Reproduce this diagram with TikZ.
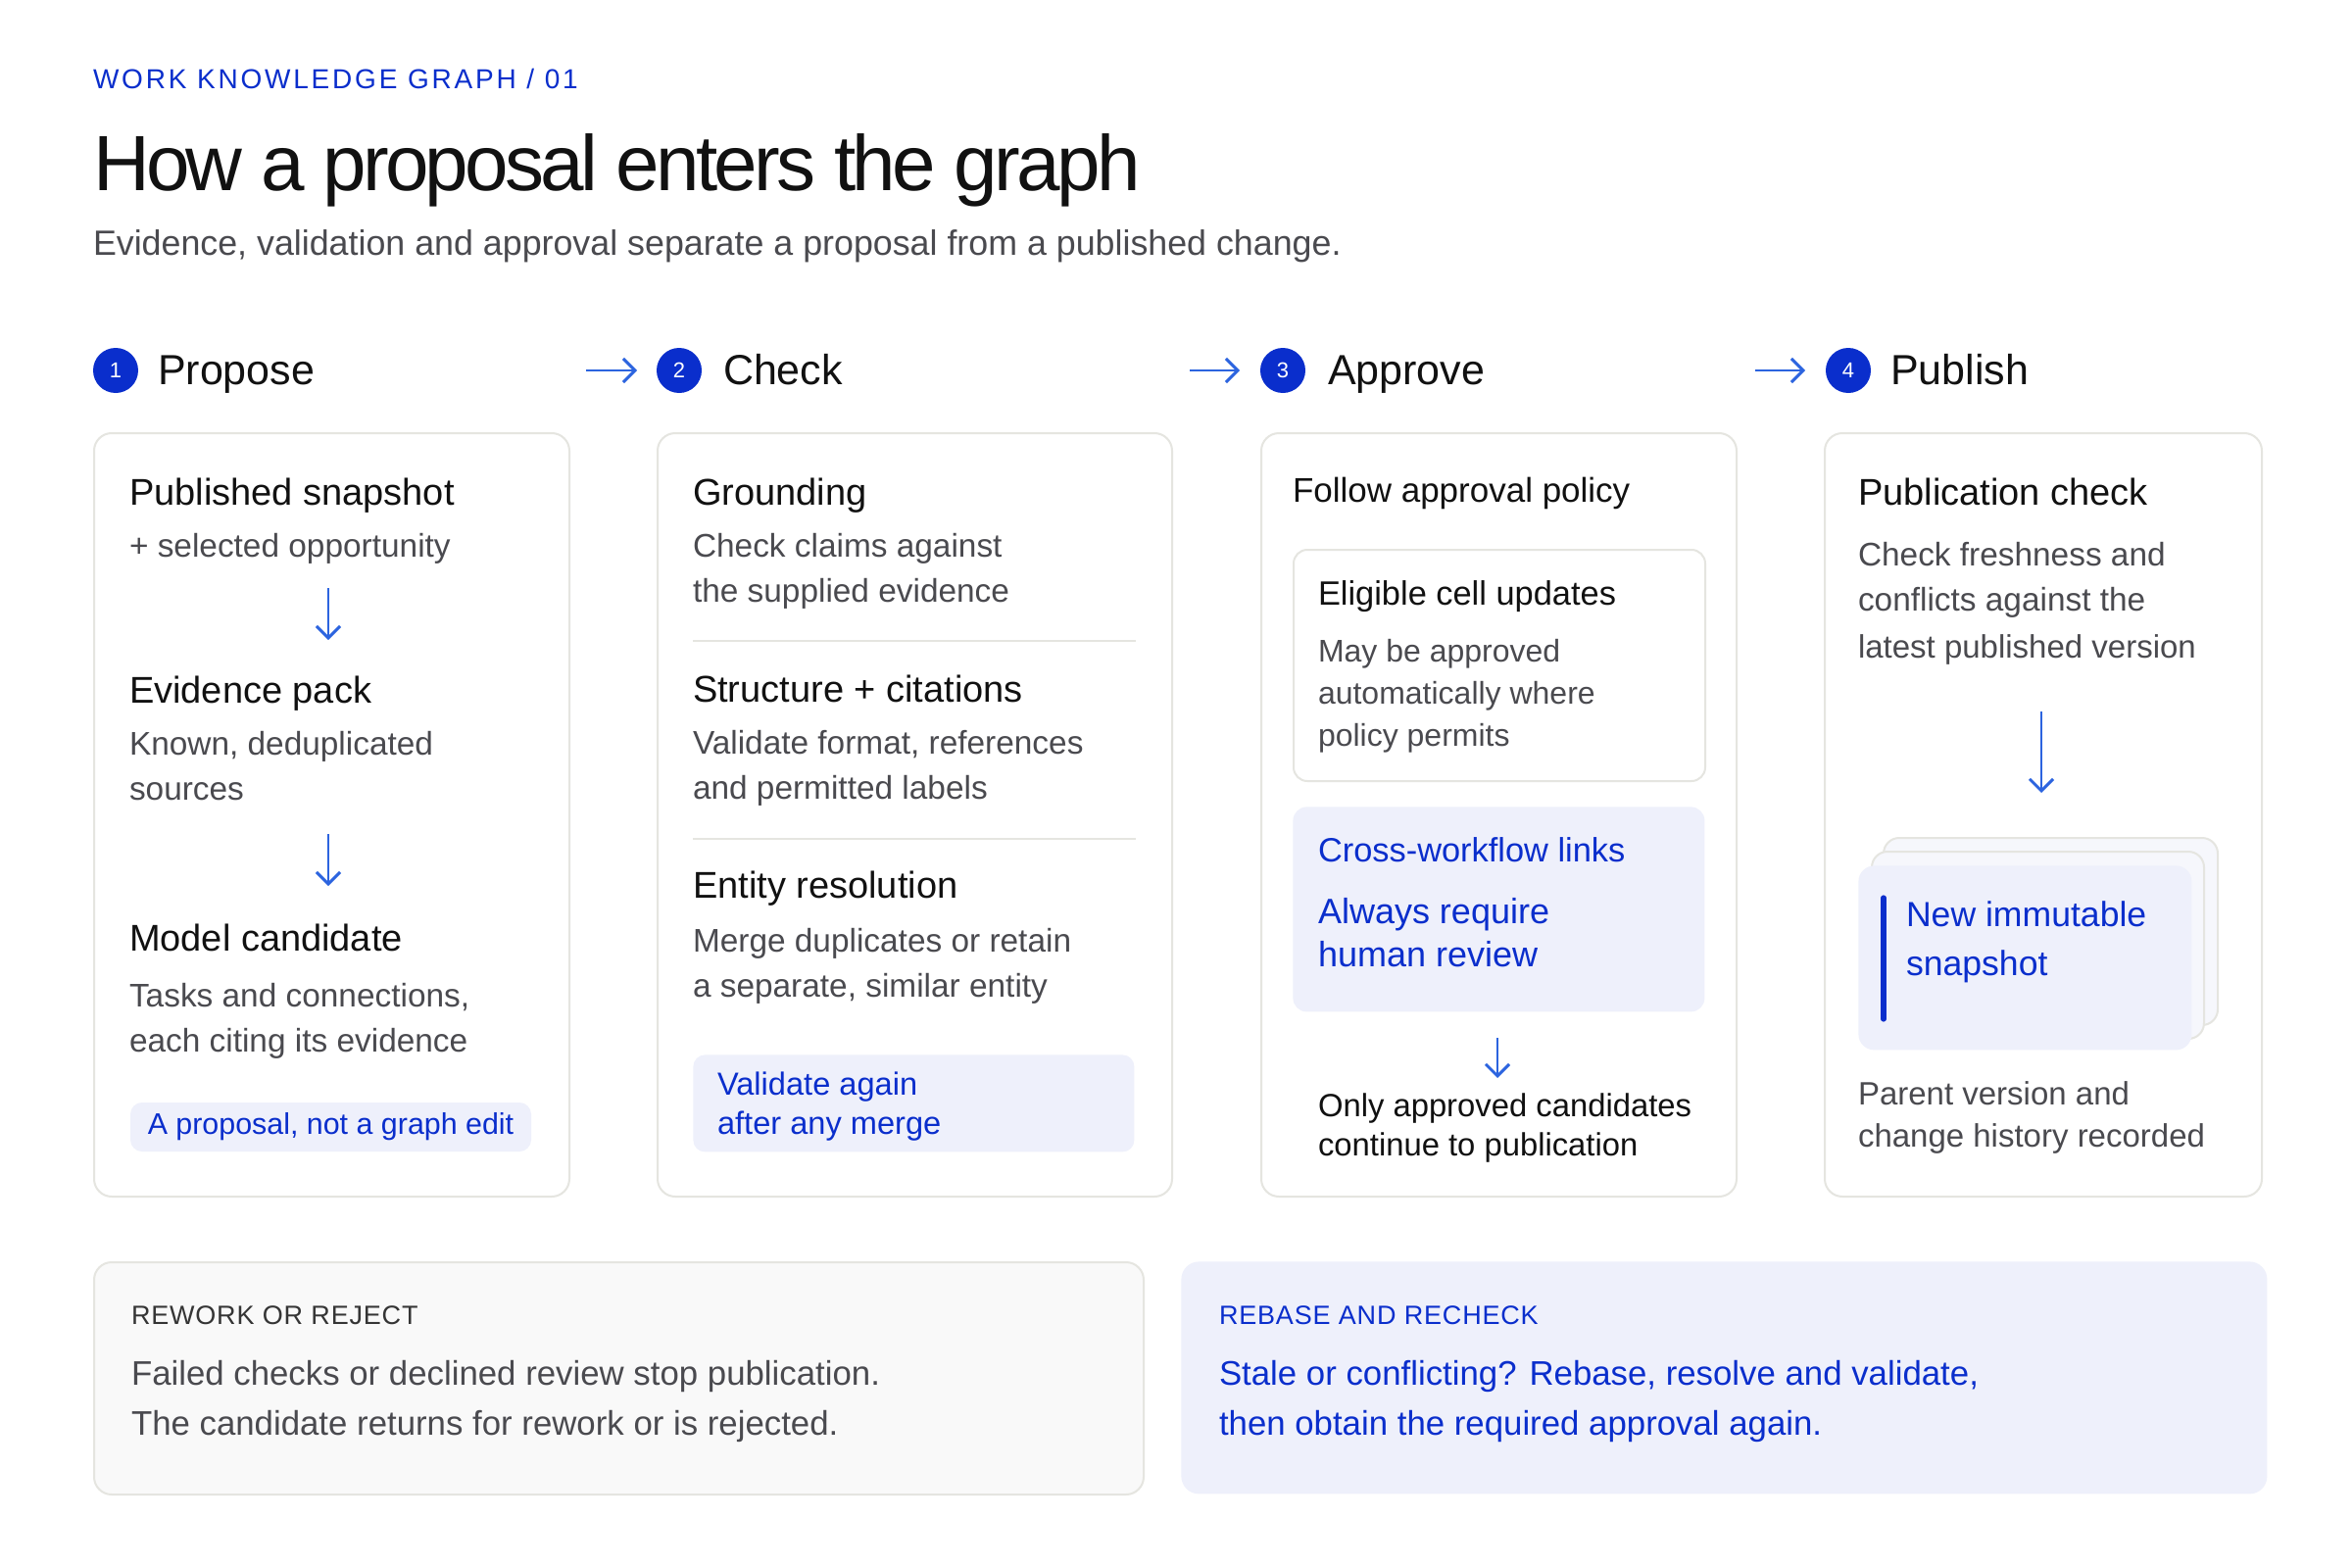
\documentclass[tikz,border=0pt]{standalone}
\usepackage{fontspec}
\setmainfont{Liberation Sans}
\usetikzlibrary{arrows.meta}
\definecolor{ink}{HTML}{111111}
\definecolor{muted}{HTML}{4A4A4F}
\definecolor{brand}{HTML}{0A2ECC}
\definecolor{arrowblue}{HTML}{2C64DF}
\definecolor{tint}{HTML}{EEF0FB}
\definecolor{tintlight}{HTML}{F6F7FC}
\definecolor{ruleclr}{HTML}{E5E5E0}
\definecolor{panel}{HTML}{F9F9F9}
\newcommand\fsz[1]{\fontsize{#1pt}{#1pt}\selectfont}
\tikzset{
  txt/.style={anchor=mid west, inner sep=0pt, outer sep=0pt, yshift=-3pt},
  eyebrow/.style={txt, text=brand, font=\fsz{14}\addfontfeature{LetterSpace=10}, yshift=1pt},
  title/.style={txt, text=ink, font=\fsz{40}\addfontfeature{LetterSpace=-4.6}, yshift=-7.5pt},
  subtitle/.style={txt, text=muted, font=\fsz{17.9}},
  stepdot/.style={circle, fill=brand, text=white, minimum size=23pt, inner sep=0pt, font=\fsz{11}},
  steplbl/.style={txt, text=ink, font=\fsz{21.5}, yshift=-1.5pt},
  cardbox/.style={draw=ruleclr, line width=1pt, fill=white, rounded corners=9pt, anchor=north west, inner sep=0pt},
  head/.style={txt, text=ink, font=\fsz{19}, yshift=-1pt},
  body/.style={txt, text=muted, font=\fsz{16.7}},
  subhead/.style={txt, text=ink, font=\fsz{17.2}},
  bluetxt/.style={txt, text=brand, font=\fsz{17.5}},
  pillbox/.style={fill=tint, rounded corners=6pt, inner sep=0pt},
  varrow/.style={draw=arrowblue, line width=1.45pt, -{Straight Barb[length=6pt, width=12pt, line width=1.45pt]}},
  harrow/.style={draw=arrowblue, line width=1.45pt, -{Straight Barb[length=6pt, width=12pt, line width=1.45pt]}},
  divider/.style={draw=ruleclr, line width=1pt},
  boteyebrow/.style={txt, font=\fsz{13.5}\addfontfeature{LetterSpace=3}, yshift=0.5pt},
  bottxt/.style={txt, font=\fsz{17.4}},
}
\begin{document}
\begin{tikzpicture}[x=0.5pt,y=-0.5pt]
\useasboundingbox (0,0) rectangle (2400,1600);
\fill[white] (0,0) rectangle (2400,1600);

% header
\node[eyebrow] (eyebrow) at (95,81) {WORK KNOWLEDGE GRAPH / 01};
\node[title] (title) at (95,168) {How a proposal enters the graph};
\node[subtitle] (subtitle) at (95,249) {Evidence, validation and approval separate a proposal from a published change.};

% step headers
\node[stepdot] (d1) at (118,378) {1};
\node[steplbl] (s1) at (161,378) {Propose};
\node[stepdot] (d2) at (693,378) {2};
\node[steplbl] (s2) at (738,378) {Check};
\node[stepdot] (d3) at (1309,378) {3};
\node[steplbl] (s3) at (1355,378) {Approve};
\node[stepdot] (d4) at (1886,378) {4};
\node[steplbl] (s4) at (1929,378) {Publish};
\coordinate (h1a) at (598,378); \coordinate (h1b) at (650,378);
\coordinate (h2a) at (1214,378); \coordinate (h2b) at (1265,378);
\coordinate (h3a) at (1791,378); \coordinate (h3b) at (1842,378);
\draw[harrow] (h1a) -- (h1b);
\draw[harrow] (h2a) -- (h2b);
\draw[harrow] (h3a) -- (h3b);

% cards
\node[cardbox, minimum width=242.5pt, minimum height=389.5pt] (card1) at (95,441) {};
\node[cardbox, minimum width=262.5pt, minimum height=389.5pt] (card2) at (670,441) {};
\node[cardbox, minimum width=242.5pt, minimum height=389.5pt] (card3) at (1286,441) {};
\node[cardbox, minimum width=223pt, minimum height=389.5pt] (card4) at (1861,441) {};

% card 1
\node[head] (c1h1) at (132,502) {Published snapshot};
\node[body] (c1b1) at (132,557) {+ selected opportunity};
\coordinate (c1a1s) at (335,600); \coordinate (c1a1e) at (335,653);
\draw[varrow] (c1a1s) -- (c1a1e);
\node[head] (c1h2) at (132,704) {Evidence pack};
\node[body] (c1b2) at (132,759) {Known, deduplicated};
\node[body] (c1b3) at (132,805) {sources};
\coordinate (c1a2s) at (335,851); \coordinate (c1a2e) at (335,904);
\draw[varrow] (c1a2s) -- (c1a2e);
\node[head] (c1h3) at (132,957) {Model candidate};
\node[body] (c1b4) at (132,1016) {Tasks and connections,};
\node[body] (c1b5) at (132,1062) {each citing its evidence};
\node[pillbox, minimum width=204.5pt, minimum height=25pt, text=brand, font=\fsz{15.2}] (pill1) at (337.5,1150) {A proposal, not a graph edit};

% card 2
\node[head] (c2h1) at (707,502) {Grounding};
\node[body] (c2b1) at (707,557) {Check claims against};
\node[body] (c2b2) at (707,603) {the supplied evidence};
\coordinate (dv1a) at (707,654); \coordinate (dv1b) at (1159,654);
\draw[divider] (dv1a) -- (dv1b);
\node[head] (c2h2) at (707,703) {Structure + citations};
\node[body] (c2b3) at (707,758) {Validate format, references};
\node[body] (c2b4) at (707,804) {and permitted labels};
\coordinate (dv2a) at (707,856); \coordinate (dv2b) at (1159,856);
\draw[divider] (dv2a) -- (dv2b);
\node[head] (c2h3) at (707,903) {Entity resolution};
\node[body] (c2b5) at (707,960) {Merge duplicates or retain};
\node[body] (c2b6) at (707,1006) {a separate, similar entity};
\node[pillbox, anchor=north west, minimum width=225pt, minimum height=49.5pt] (pill2) at (707,1076) {};
\node[txt, text=brand, font=\fsz{16.3}] (p2l1) at (732,1106) {Validate again};
\node[txt, text=brand, font=\fsz{16.3}] (p2l2) at (732,1146) {after any merge};

% card 3
\node[txt, text=ink, font=\fsz{17.5}, yshift=-0.8pt] (c3h) at (1319,500) {Follow approval policy};
\node[cardbox, rounded corners=7pt, minimum width=210pt, minimum height=118pt] (elig) at (1319,560) {};
\node[subhead] (c3s1) at (1345,606) {Eligible cell updates};
\node[body, font=\fsz{16}] (c3b1) at (1345,664) {May be approved};
\node[body, font=\fsz{16}] (c3b2) at (1345,707) {automatically where};
\node[body, font=\fsz{16}] (c3b3) at (1345,750) {policy permits};
\node[pillbox, rounded corners=7pt, anchor=north west, minimum width=210pt, minimum height=104.5pt] (cross) at (1319,823) {};
\node[bluetxt, font=\fsz{17.2}] (c3x1) at (1345,868) {Cross-workflow links};
\node[bluetxt, font=\fsz{18}] (c3x2) at (1345,931) {Always require};
\node[bluetxt, font=\fsz{18}] (c3x3) at (1345,975) {human review};
\coordinate (c3as) at (1528,1059); \coordinate (c3ae) at (1528,1100);
\draw[varrow] (c3as) -- (c3ae);
\node[txt, text=ink, font=\fsz{16.4}] (c3o1) at (1345,1128) {Only approved candidates};
\node[txt, text=ink, font=\fsz{16.4}] (c3o2) at (1345,1168) {continue to publication};

% card 4
\node[head] (c4h) at (1896,502) {Publication check};
\node[body] (c4b1) at (1896,566) {Check freshness and};
\node[body] (c4b2) at (1896,612) {conflicts against the};
\node[body, font=\fsz{16.5}] (c4b3) at (1896,660) {latest published version};
\coordinate (c4as) at (2083,726); \coordinate (c4ae) at (2083,809);
\draw[varrow] (c4as) -- (c4ae);
\node[cardbox, fill=tintlight, rounded corners=8pt, minimum width=170.5pt, minimum height=95.5pt] (stk2) at (1921,854) {};
\node[cardbox, fill=tintlight, rounded corners=8pt, minimum width=169.5pt, minimum height=95.5pt] (stk1) at (1909,868) {};
\node[pillbox, rounded corners=8pt, anchor=north west, minimum width=170pt, minimum height=94pt] (stk0) at (1896,883) {};
\coordinate (bar1) at (1922,916); \coordinate (bar2) at (1922,1040);
\draw[draw=brand, line width=2.6pt, line cap=round] (bar1) -- (bar2);
\node[bluetxt, font=\fsz{17.8}] (c4n1) at (1945,934) {New immutable};
\node[bluetxt, font=\fsz{17.8}] (c4n2) at (1945,984) {snapshot};
\node[body, font=\fsz{16.5}] (c4b4) at (1896,1116) {Parent version and};
\node[body, font=\fsz{16.5}] (c4b5) at (1896,1159) {change history recorded};

% bottom panels
\node[cardbox, fill=panel, minimum width=535.5pt, minimum height=118.5pt] (rework) at (95,1287) {};
\node[boteyebrow, text=ink!85] (rwh) at (134,1341) {REWORK OR REJECT};
\node[bottxt, text=muted] (rw1) at (134,1402) {Failed checks or declined review stop publication.};
\node[bottxt, text=muted] (rw2) at (134,1453) {The candidate returns for rework or is rejected.};
\node[pillbox, rounded corners=9pt, anchor=north west, minimum width=554pt, minimum height=118.5pt] (rebase) at (1205,1287) {};
\node[boteyebrow, text=brand] (rbh) at (1244,1341) {REBASE AND RECHECK};
\node[bottxt, text=brand] (rb1) at (1244,1402) {Stale or conflicting? Rebase, resolve and validate,};
\node[bottxt, text=brand] (rb2) at (1244,1453) {then obtain the required approval again.};
\end{tikzpicture}
\end{document}
